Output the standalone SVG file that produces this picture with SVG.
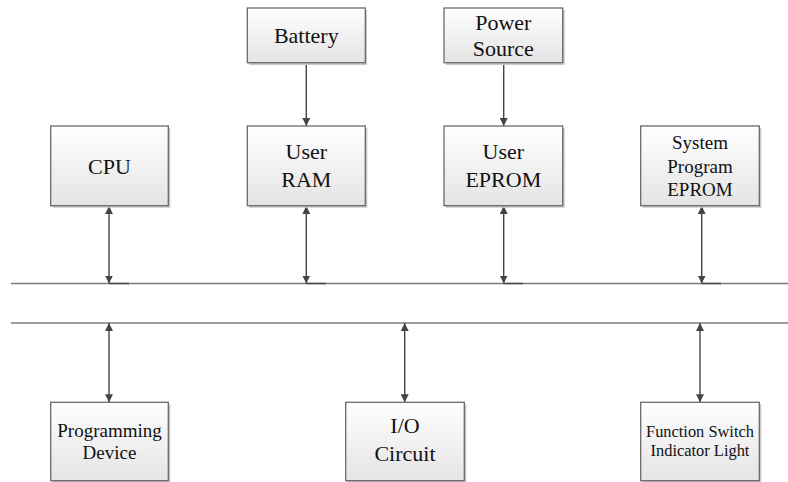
<svg xmlns="http://www.w3.org/2000/svg" width="788" height="482" viewBox="0 0 788 482">
<defs>
<linearGradient id="g" x1="0" y1="0" x2="0" y2="1">
<stop offset="0" stop-color="#ffffff"/>
<stop offset="1" stop-color="#e4e4e4"/>
</linearGradient>
<marker id="ah" viewBox="0 0 10 10" refX="10" refY="5" markerWidth="8" markerHeight="8" markerUnits="userSpaceOnUse" orient="auto-start-reverse">
<path d="M0,0 L10,5 L0,10 z" fill="#444"/>
</marker>
</defs>
<style>
.box{fill:url(#g);stroke:#6a6a6a;stroke-width:1.3}
.sh{fill:#c8c8c8}
text{font-family:'Liberation Serif','DejaVu Serif',serif;fill:#111;text-anchor:middle}
.big{font-size:22px}
.mid{font-size:19px}
.sm{font-size:16.4px}
.bus{stroke:#7a7a7a;stroke-width:1.5;fill:none}
.cd{stroke:#444;stroke-width:1.4;fill:none;marker-end:url(#ah)}
.cb{stroke:#444;stroke-width:1.4;fill:none;marker-start:url(#ah);marker-end:url(#ah)}
.dk{stroke:#4a4a4a;stroke-width:1.5}
</style>
<rect width="788" height="482" fill="#fff"/>
<g id="connectors">
<line class="bus" x1="11" y1="283.5" x2="788" y2="283.5"/>
<line class="bus" x1="11" y1="323" x2="788" y2="323"/>
<line class="dk" x1="109" y1="283.5" x2="129" y2="283.5"/>
<line class="dk" x1="306.3" y1="283.5" x2="326" y2="283.5"/>
<line class="dk" x1="503.7" y1="283.5" x2="523" y2="283.5"/>
<line class="dk" x1="701.7" y1="283.5" x2="721" y2="283.5"/>
<line class="cd" x1="306.3" y1="63" x2="306.3" y2="126"/>
<line class="cd" x1="503.7" y1="63" x2="503.7" y2="126"/>
<line class="cb" x1="109" y1="206" x2="109" y2="283.5"/>
<line class="cb" x1="306.3" y1="206" x2="306.3" y2="283.5"/>
<line class="cb" x1="503.7" y1="206" x2="503.7" y2="283.5"/>
<line class="cb" x1="701.7" y1="206" x2="701.7" y2="283.5"/>
<line class="cb" x1="109" y1="323" x2="109" y2="402.3"/>
<line class="cb" x1="404.7" y1="323" x2="404.7" y2="402.3"/>
<line class="cb" x1="700" y1="323" x2="700" y2="402.3"/>
</g>
<g id="battery">
<rect class="sh" x="249" y="10" width="118" height="55"/>
<rect class="box" x="247.3" y="8" width="118" height="54.7"/>
<text class="big" font-family="Liberation Serif, serif" x="306.3" y="43.3">Battery</text>
</g>
<g id="power-source">
<rect class="sh" x="446" y="10" width="118.7" height="55"/>
<rect class="box" x="444" y="8" width="118.7" height="54.7"/>
<text class="big" font-family="Liberation Serif, serif" x="503.3" y="30">Power</text>
<text class="big" font-family="Liberation Serif, serif" x="503.3" y="56">Source</text>
</g>
<g id="cpu">
<rect class="sh" x="52.7" y="128" width="117.6" height="79.7"/>
<rect class="box" x="50.7" y="126" width="117.6" height="79.7"/>
<text class="big" font-family="Liberation Serif, serif" x="109.5" y="174">CPU</text>
</g>
<g id="user-ram">
<rect class="sh" x="249.3" y="128" width="118" height="79.7"/>
<rect class="box" x="247.3" y="126" width="118" height="79.7"/>
<text class="big" font-family="Liberation Serif, serif" x="306.3" y="159.3">User</text>
<text class="big" font-family="Liberation Serif, serif" x="306.3" y="186.7">RAM</text>
</g>
<g id="user-eprom">
<rect class="sh" x="446" y="128" width="118.7" height="79.7"/>
<rect class="box" x="444" y="126" width="118.7" height="79.7"/>
<text class="big" font-family="Liberation Serif, serif" x="503.3" y="159.3">User</text>
<text class="big" font-family="Liberation Serif, serif" x="503.3" y="186.7">EPROM</text>
</g>
<g id="system-program-eprom">
<rect class="sh" x="642.7" y="128" width="118.6" height="79.7"/>
<rect class="box" x="640.7" y="126" width="118.6" height="79.7"/>
<text class="mid" font-family="Liberation Serif, serif" x="700" y="149">System</text>
<text class="mid" font-family="Liberation Serif, serif" x="700" y="172.5">Program</text>
<text class="mid" font-family="Liberation Serif, serif" x="700" y="196">EPROM</text>
</g>
<g id="programming-device">
<rect class="sh" x="52.7" y="404.3" width="117.6" height="78.4"/>
<rect class="box" x="50.7" y="402.3" width="117.6" height="78.4"/>
<text class="mid" font-family="Liberation Serif, serif" x="109.5" y="436.7">Programming</text>
<text class="mid" font-family="Liberation Serif, serif" x="109.5" y="459.3">Device</text>
</g>
<g id="io-circuit">
<rect class="sh" x="347.7" y="404.3" width="118.6" height="78.4"/>
<rect class="box" x="345.7" y="402.3" width="118.6" height="78.4"/>
<text class="big" font-family="Liberation Serif, serif" x="405" y="433.3">I/O</text>
<text class="big" font-family="Liberation Serif, serif" x="405" y="460.7">Circuit</text>
</g>
<g id="function-switch">
<rect class="sh" x="642.7" y="404.3" width="118.6" height="78.4"/>
<rect class="box" x="640.7" y="402.3" width="118.6" height="78.4"/>
<text class="sm" font-family="Liberation Serif, serif" x="700" y="436.7">Function Switch</text>
<text class="sm" font-family="Liberation Serif, serif" x="700" y="456">Indicator Light</text>
</g>
</svg>
